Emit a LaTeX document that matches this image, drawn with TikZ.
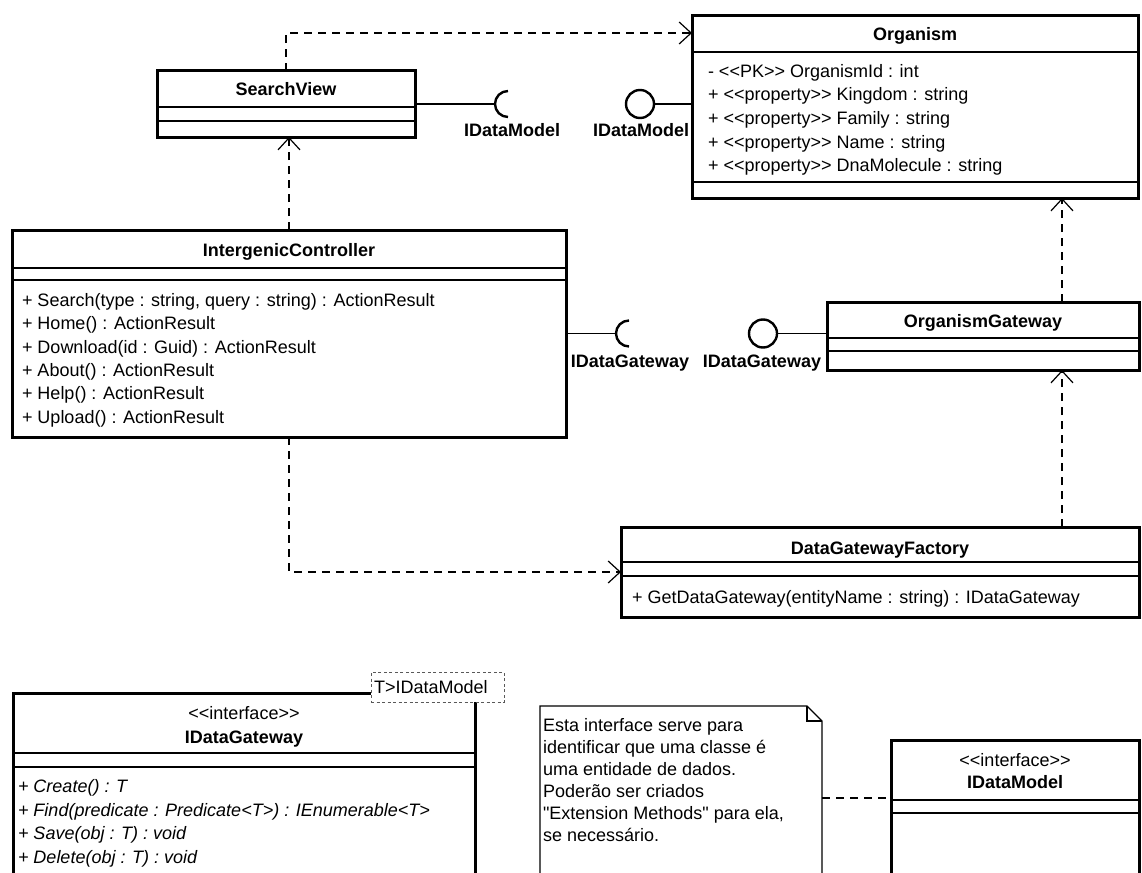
\documentclass[tikz,border=0pt]{standalone}
\usepackage{fontspec}
\setmainfont{Liberation Sans}
\usetikzlibrary{arrows.meta,calc}

% class box from (x1,y1) to (x2,y2), in picture units
\newcommand{\umlbox}[5]{\node[classbox, minimum width={#4-(#2)}, minimum height={#5-(#3)}] (#1) at (#2,#3) {};}

\begin{document}
\begin{tikzpicture}[x=1pt,y=-1pt,
  every node/.style={inner sep=0pt, outer sep=0pt},
  basefont/.style={font=\fontsize{18}{22}\selectfont},
  txt/.style={basefont, anchor=base west},
  mth/.style={anchor=base west, font=\fontsize{18}{22}\selectfont\itshape},
  ttl/.style={anchor=base, font=\fontsize{18}{22}\selectfont\bfseries},
  ster/.style={basefont, anchor=base},
  ifacelbl/.style={anchor=base, font=\fontsize{18}{22}\selectfont\bfseries},
  classbox/.style={rectangle, draw, line width=3pt, fill=white, anchor=north west},
  divider/.style={line width=1.4pt},
  wire/.style={line width=1.3pt},
  dep/.style={line width=1.2pt, dash pattern=on 8pt off 6pt,
    -{Straight Barb[length=12pt,width=22pt]}},
  sock/.style={line width=2.4pt},
  lolli/.style={circle, draw, line width=2.4pt, minimum size=28pt, fill=white},
  notebox/.style={line width=1.1pt, fill=white},
  tplbox/.style={rectangle, draw=black!65, dash pattern=on 3pt off 2.5pt, line width=1pt,
    fill=white, anchor=north west, minimum width=133pt, minimum height=30pt},
]
\useasboundingbox (0,0) rectangle (1142,872);
\fill[white] (0,0) rectangle (1142,872);
\clip (0,0) rectangle (1142,872);

% ---------- Organism ----------
\umlbox{org}{692}{16}{1138}{198}
\node[ttl] (org-t) at (915,41) {Organism};
\draw[divider] (692,52) -- (1138,52);
\node[txt] (org-a1) at (708,78)  {- <{}<PK>{}> OrganismId : int};
\node[txt] (org-a2) at (708,101) {+ <{}<property>{}> Kingdom : string};
\node[txt] (org-a3) at (708,124.5) {+ <{}<property>{}> Family : string};
\node[txt] (org-a4) at (708,148) {+ <{}<property>{}> Name : string};
\node[txt] (org-a5) at (708,171) {+ <{}<property>{}> DnaMolecule : string};
\draw[divider] (692,182) -- (1138,182);

% ---------- SearchView ----------
\umlbox{sv}{157}{71}{415}{137}
\node[ttl] (sv-t) at (286,96) {SearchView};
\draw[divider] (157,107) -- (415,107);
\draw[divider] (157,121) -- (415,121);

% ---------- IntergenicController ----------
\umlbox{ic}{12}{230}{566}{437}
\node[ttl] (ic-t) at (289,256) {IntergenicController};
\draw[divider] (12,268) -- (566,268);
\draw[divider] (12,280) -- (566,280);
\node[txt] (ic-m1) at (22,306)   {+ Search(type : string, query : string) : ActionResult};
\node[txt] (ic-m2) at (22,329.5) {+ Home() : ActionResult};
\node[txt] (ic-m3) at (22,353)   {+ Download(id : Guid) : ActionResult};
\node[txt] (ic-m4) at (22,376)   {+ About() : ActionResult};
\node[txt] (ic-m5) at (22,399.5) {+ Help() : ActionResult};
\node[txt] (ic-m6) at (22,423)   {+ Upload() : ActionResult};

% ---------- OrganismGateway ----------
\umlbox{og}{827}{302}{1139}{370}
\node[ttl] (og-t) at (983,327) {OrganismGateway};
\draw[divider] (827,338) -- (1139,338);
\draw[divider] (827,351) -- (1139,351);

% ---------- DataGatewayFactory ----------
\umlbox{dgf}{621}{527}{1139}{617}
\node[ttl] (dgf-t) at (880,554) {DataGatewayFactory};
\draw[divider] (621,562) -- (1139,562);
\draw[divider] (621,576) -- (1139,576);
\node[txt] (dgf-m1) at (632,603) {+ GetDataGateway(entityName : string) : IDataGateway};

% ---------- IDataGateway (interface) ----------
\umlbox{idg}{13}{693}{475}{900}
\node[ster] (idg-s) at (244,719) {<{}<interface>{}>};
\node[ttl] (idg-t) at (244,743) {IDataGateway};
\draw[divider] (13,753) -- (475,753);
\draw[divider] (13,767) -- (475,767);
\node[mth] (idg-m1) at (18,792) {+ Create() : T};
\node[mth] (idg-m2) at (18,816) {+ Find(predicate : Predicate<T>) : IEnumerable<T>};
\node[mth] (idg-m3) at (18,839) {+ Save(obj : T) : void};
\node[mth] (idg-m4) at (18,863) {+ Delete(obj : T) : void};
% template parameter
\node[tplbox] (tpl) at (371,672) {};
\node[txt] (tpl-t) at (374,693) {T>IDataModel};

% ---------- note ----------
\draw[notebox] (540,900) -- (540,706) -- (807,706) -- (822,721) -- (822,900);
\draw[line width=1.1pt] (807,706) -- (807,721) -- (822,721);
\coordinate (note-r) at (822,798);
\node[txt] (n1) at (543,731) {Esta interface serve para};
\node[txt] (n2) at (543,753) {identificar que uma classe é};
\node[txt] (n3) at (543,775) {uma entidade de dados.};
\node[txt] (n4) at (543,797) {Poderão ser criados};
\node[txt] (n5) at (543,819) {\textquotedbl Extension Methods\textquotedbl{} para ela,};
\node[txt] (n6) at (543,841) {se necessário.};

% ---------- IDataModel (interface) ----------
\umlbox{idm}{891}{740}{1139}{900}
\node[ster] (idm-s) at (1015,766) {<{}<interface>{}>};
\node[ttl] (idm-t) at (1015,788) {IDataModel};
\draw[divider] (891,800) -- (1139,800);
\draw[divider] (891,813) -- (1139,813);

% ---------- provided / required interfaces ----------
\coordinate (s1) at (495,104);
\draw[wire] (sv.east) -- (s1);
\draw[sock] (508,117) arc[start angle=90, end angle=270, radius=13];
\node[ifacelbl] (l1) at (512,136) {IDataModel};
\node[lolli] (lp1) at (640,104) {};
\draw[wire] (lp1.east) -- (org.west |- lp1);
\node[ifacelbl] (l2) at (641,136) {IDataModel};

\coordinate (s2) at (616,333.5);
\draw[wire] (ic.east) -- (s2);
\draw[sock] (629,346.5) arc[start angle=90, end angle=270, radius=13];
\node[ifacelbl] (l3) at (630,367) {IDataGateway};
\node[lolli] (lp2) at (763,333.5) {};
\draw[wire] (lp2.east) -- (og.west |- lp2);
\node[ifacelbl] (l4) at (762,367) {IDataGateway};

% ---------- dependencies ----------
\coordinate (ytop) at (0,33);
\coordinate (xgw) at (1062,0);
\draw[dep] (sv.north) |- (org.west |- ytop);
\draw[dep] (ic.north) -- (ic.north |- sv.south);
\draw[dep] (og.north -| xgw) -- (org.south -| xgw);
\draw[dep] (dgf.north -| xgw) -- (og.south -| xgw);
\draw[dep] (ic.south) |- (dgf.west);
\draw[line width=1.2pt, dash pattern=on 8pt off 6pt] (note-r) -- (idm.west |- note-r);
\end{tikzpicture}
\end{document}
